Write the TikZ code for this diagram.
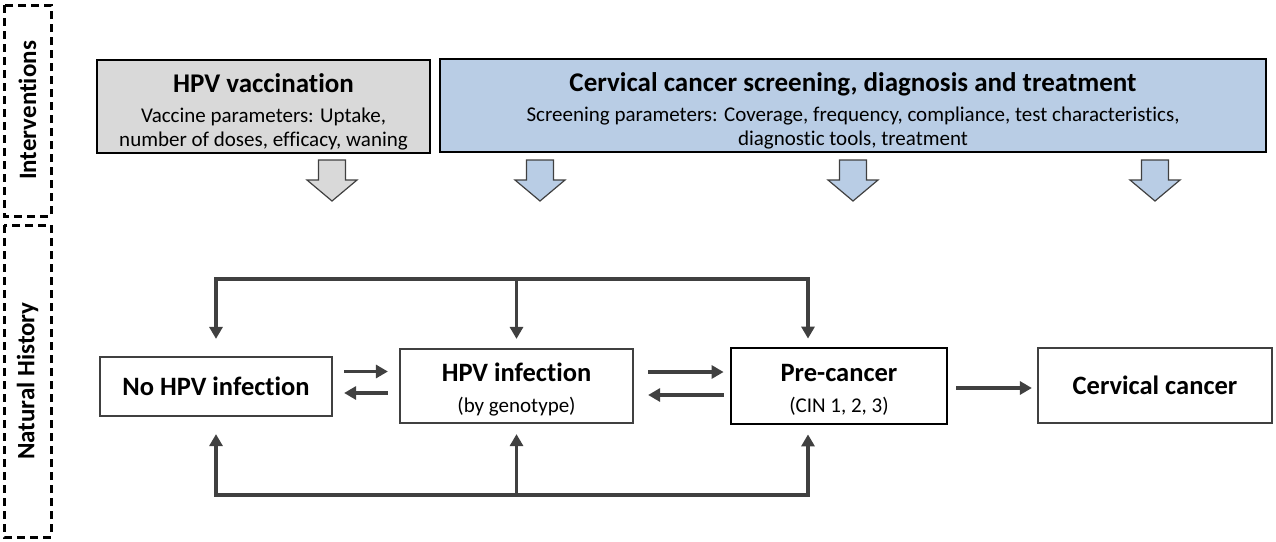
\documentclass[tikz,border=0pt]{standalone}
\usepackage{fontspec}
\setmainfont[Ligatures={NoCommon}]{Carlito}
\usetikzlibrary{arrows.meta}
\definecolor{dg}{HTML}{404040}
\definecolor{vgray}{HTML}{D9D9D9}
\definecolor{sblue}{HTML}{B9CDE5}
\newcommand{\ttlfont}{\fontsize{27}{30}\selectfont\bfseries}
\newcommand{\subfont}{\fontsize{21}{24}\selectfont}
\newcommand{\nhfont}{\fontsize{26.5}{30}\selectfont\bfseries}
\newcommand{\nhsub}{\fontsize{21}{25}\selectfont}
\begin{document}
\begin{tikzpicture}[x=1pt,y=-1pt,
  topbox/.style={draw=black, line width=2.6pt, inner sep=0pt},
  toptext/.style={inner sep=0pt, align=center, font=\subfont},
  nhbox/.style={draw=dg, line width=2.2pt, fill=white, inner sep=0pt, align=center, font=\nhsub},
  sidebox/.style={draw=black, line width=3pt, dash pattern=on 8pt off 5pt, inner sep=0pt, rotate=90, font=\fontsize{25}{28}\selectfont\bfseries},
  conn/.style={draw=dg, line width=3.3pt, -{Triangle[length=12pt,width=13pt]}},
  blockarrow/.style={draw=dg, line width=1.2pt, line join=miter}
]
\useasboundingbox (0,0) rectangle (1276,541);

% side labels
\node[sidebox, minimum width=211pt, minimum height=47pt] (intbox) at (27.5,110.5) {Interventions};
\node[sidebox, minimum width=312pt, minimum height=47pt] (nhbox) at (27.5,381) {Natural History};

% intervention boxes
\node[topbox, fill=vgray, minimum width=333pt, minimum height=93pt] (vacc) at (263.5,106.5) {};
\node[toptext] (vacctxt) at (263.5,111.5)
  {{\ttlfont HPV vaccination}\\[6pt]
   Vaccine parameters: Uptake,\\
   number of doses, efficacy, waning};
\node[topbox, fill=sblue, minimum width=826pt, minimum height=93pt] (screen) at (853,105.5) {};
\node[toptext] (screentxt) at (853,110.5)
  {{\ttlfont Cervical cancer screening, diagnosis and treatment}\\[6pt]
   Screening parameters: Coverage, frequency, compliance, test characteristics,\\
   diagnostic tools, treatment};

% block arrows
\foreach \cx/\fc in {332/vgray, 540/sblue, 853/sblue, 1155/sblue}{
  \draw[blockarrow, fill=\fc] (\cx-13.5,160) -- (\cx+13.5,160) -- (\cx+13.5,180) -- (\cx+25,180)
     -- (\cx,201) -- (\cx-25,180) -- (\cx-13.5,180) -- cycle;
}

% natural history boxes
\node[nhbox, minimum width=232pt, minimum height=59pt] (nohpv) at (216,386.5) {\nhfont No HPV infection};
\node[nhbox, minimum width=233pt, minimum height=74pt] (hpv) at (516.5,386)
  {{\nhfont\rule{0pt}{25pt}HPV infection}\\[6pt](by genotype)};
\node[nhbox, draw=black, line width=2.8pt, minimum width=216pt, minimum height=76pt] (pre) at (839,386)
  {{\nhfont\rule{0pt}{25pt}Pre-cancer}\\[6pt](CIN 1, 2, 3)};
\node[nhbox, minimum width=234pt, minimum height=75pt] (cc) at (1155,385.5) {\nhfont Cervical cancer};

% buses
\coordinate (tm) at (516.5,279);
\coordinate (tr) at (808,279);
\coordinate (bm) at (516.5,495);
\coordinate (br) at (808,495);

\draw[conn, shorten >=17pt] (tm) -| (nohpv.north);
\draw[conn, shorten >=8pt] (tm) -| (tr |- pre.north);
\draw[conn, shorten >=9pt] (tm) -- (hpv.north);

\draw[conn, shorten >=17pt] (bm) -| (nohpv.south);
\draw[conn, shorten >=9pt] (bm) -| (br |- pre.south);
\draw[conn, shorten >=10pt] (bm) -- (hpv.south);

% horizontal transitions
\draw[conn, shorten <=11pt, shorten >=11pt] ([yshift=15pt]nohpv.east) -- ([yshift=15pt]nohpv.east -| hpv.west);
\draw[conn, shorten <=11pt, shorten >=11pt] ([yshift=-7pt]hpv.west) -- ([yshift=-7pt]hpv.west -| nohpv.east);
\draw[conn, shorten <=14pt, shorten >=6pt] ([yshift=14pt]hpv.east) -- ([yshift=14pt]hpv.east -| pre.west);
\draw[conn, shorten <=6pt, shorten >=14pt] ([yshift=-9pt]pre.west) -- ([yshift=-9pt]pre.west -| hpv.east);
\draw[conn, shorten <=8pt, shorten >=5pt] ([yshift=-2pt]pre.east) -- ([yshift=-2pt]pre.east -| cc.west);
\end{tikzpicture}
\end{document}
